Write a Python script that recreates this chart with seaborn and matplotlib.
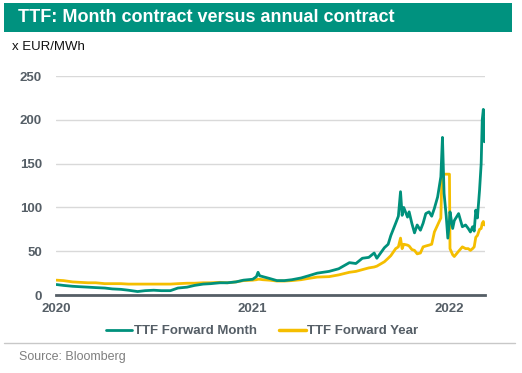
import pandas as pd
import matplotlib
matplotlib.use("Agg")
import matplotlib.pyplot as plt
import matplotlib.dates as mdates
from matplotlib.patches import Rectangle
from matplotlib.lines import Line2D
import seaborn as sns

# ── Data (EUR/MWh) ───────────────────────────────────────────────────────────
dates = [
    # 2020
    "2020-01-02", "2020-01-15", "2020-02-01", "2020-02-15", "2020-03-01", "2020-03-15",
    "2020-04-01", "2020-04-15", "2020-05-01", "2020-05-15", "2020-06-01", "2020-06-15",
    "2020-07-01", "2020-07-15", "2020-08-01", "2020-08-15", "2020-09-01", "2020-09-15",
    "2020-10-01", "2020-10-15", "2020-11-01", "2020-11-15", "2020-12-01", "2020-12-15",
    # 2021
    "2021-01-01", "2021-01-08", "2021-01-11", "2021-01-14", "2021-01-20", "2021-02-01",
    "2021-02-15", "2021-03-01", "2021-03-15", "2021-04-01", "2021-04-15", "2021-05-01",
    "2021-05-23", "2021-06-10", "2021-06-30", "2021-07-12", "2021-07-24", "2021-08-05",
    "2021-08-15", "2021-08-20", "2021-09-03", "2021-09-10", "2021-09-15", "2021-09-24",
    "2021-09-29", "2021-10-03", "2021-10-06", "2021-10-09", "2021-10-16", "2021-10-19",
    "2021-10-24", "2021-10-29", "2021-11-03", "2021-11-09", "2021-11-14", "2021-11-19",
    "2021-11-25", "2021-11-30", "2021-12-05", "2021-12-11", "2021-12-17", "2021-12-19",
    "2021-12-20", "2021-12-23", "2021-12-27", "2021-12-30",
    # 2022
    "2022-01-02", "2022-01-03", "2022-01-08", "2022-01-11", "2022-01-19", "2022-01-26",
    "2022-02-01", "2022-02-06", "2022-02-10", "2022-02-14", "2022-02-17", "2022-02-20",
    "2022-02-23", "2022-02-27", "2022-03-02", "2022-03-04", "2022-03-06", "2022-03-08",
]

ttf_month = [
    12, 11, 10, 9.5, 9, 8.5,
    8, 7, 6.5, 5.5, 4, 5,
    5.5, 5, 5, 8, 9, 11,
    12.5, 13, 14, 14, 15, 17,
    18, 21, 26, 22, 21, 19,
    16.5, 16.5, 17.5, 19.5, 22, 25,
    27, 30, 37, 36, 42, 43,
    48, 42, 54, 58, 68, 82,
    90, 118, 91, 100, 89, 95,
    82, 71, 80, 74, 82, 93,
    95, 90, 99, 112, 135, 165,
    180, 116, 90, 65,
    85, 95, 76, 85, 93, 78,
    80, 76, 72, 78, 73, 97,
    88, 120, 150, 200, 212, 175,
]

ttf_year = [
    17, 16.5, 15, 14.5, 14, 14,
    13, 13, 13, 12.5, 12.5, 12.5,
    12.5, 12.5, 12.5, 13, 13.5, 13.5,
    14, 14, 14.5, 14, 15, 16.5,
    17, 17.5, 18, 18, 17.5, 17,
    16, 16, 16.5, 17.5, 19, 20.5,
    21, 23, 26, 27, 29, 31,
    32, 33, 38, 42, 45, 53,
    55, 65, 53, 58, 57, 56,
    52, 51, 47, 48, 55, 56,
    57, 58, 72, 80, 88, 138,
    138, 138, 138, 138,
    138, 53, 46, 44, 50, 55,
    53, 53, 51, 53, 55, 66,
    68, 75, 76, 82, 84, 80,
]

series_names = ["TTF Forward Month", "TTF Forward Year"]
year_ticks = ["2020-01-01", "2021-01-01", "2022-01-01"]

TEAL = "#00917c"
YELLOW = "#f5be00"
GREY_TXT = "#555e66"

df = pd.DataFrame({
    "date": pd.to_datetime(dates * 2),
    "value": ttf_month + ttf_year,
    "series": [series_names[0]] * len(dates) + [series_names[1]] * len(dates),
})

sns.set_style("white")
plt.rcParams["font.family"] = ["Liberation Sans", "DejaVu Sans"]

fig = plt.figure(figsize=(5.22, 3.73), dpi=100)
ax = fig.add_axes([0.107, 0.209, 0.822, 0.587])

sns.lineplot(
    data=df, x="date", y="value", hue="series",
    palette={series_names[0]: TEAL, series_names[1]: YELLOW},
    hue_order=series_names[::-1],
    linewidth=2.0, ax=ax, legend=False, estimator=None,
)

ax.set_ylim(0, 250)
ax.set_xlim(pd.Timestamp("2020-01-01"), pd.Timestamp("2022-03-09"))
ax.set_yticks([0, 50, 100, 150, 200, 250])
ax.set_xticks(pd.to_datetime(year_ticks))
ax.xaxis.set_major_formatter(mdates.DateFormatter("%Y"))
ax.set_xlabel("")
ax.set_ylabel("")

# gridlines and spines
ax.yaxis.grid(True, color="#d9d9d9", linewidth=1.0)
ax.set_axisbelow(True)
for side in ["top", "right", "left"]:
    ax.spines[side].set_visible(False)
ax.spines["bottom"].set_color(GREY_TXT)
ax.spines["bottom"].set_linewidth(2.0)
ax.tick_params(axis="x", length=4, width=1.5, color=GREY_TXT, pad=2,
               labelsize=9.5, labelcolor=GREY_TXT)
ax.tick_params(axis="y", length=0, pad=10, labelsize=9.5, labelcolor=GREY_TXT)
for lab in ax.get_xticklabels() + ax.get_yticklabels():
    lab.set_fontweight("bold")

# legend below the axis
handles = [Line2D([], [], color=TEAL, linewidth=2.0),
           Line2D([], [], color=YELLOW, linewidth=2.5)]
fig.legend(handles, series_names, loc="center", bbox_to_anchor=(0.502, 0.112),
           ncol=2, frameon=False, handlelength=2.0, handletextpad=0.1,
           columnspacing=1.7, prop={"weight": "bold", "size": 9.5},
           labelcolor=GREY_TXT)

# title bar
fig.patches.append(Rectangle((0.008, 0.914), 0.973, 0.078, transform=fig.transFigure,
                             facecolor="#00927f", edgecolor="none"))
fig.text(0.034, 0.953, "TTF: Month contract versus annual contract", color="white",
         fontsize=13, fontweight="bold", va="center", ha="left")
fig.text(0.023, 0.874, "x EUR/MWh", color="#111111", fontsize=9.5, va="center", ha="left")

# separator and source
fig.add_artist(Line2D([0.008, 0.987], [0.080, 0.080], transform=fig.transFigure,
                      color="#c8c8c8", linewidth=1.0))
fig.text(0.036, 0.043, "Source: Bloomberg", color="#7f7f7f", fontsize=9,
         va="center", ha="left")

fig.savefig("out.png", dpi=100)
